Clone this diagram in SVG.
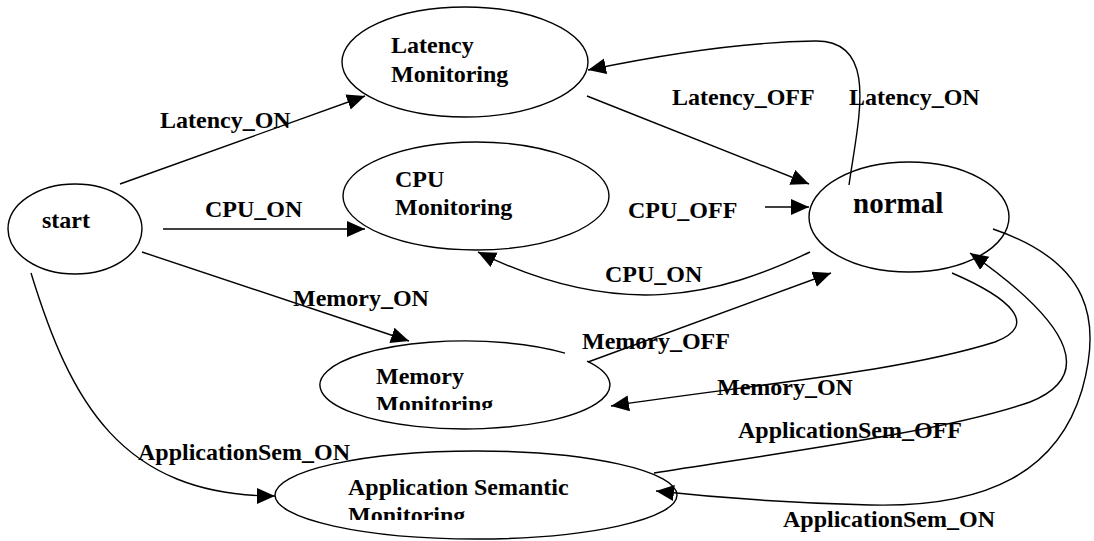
<svg xmlns="http://www.w3.org/2000/svg" width="1094" height="541" viewBox="0 0 1094 541">
<style>
.n{fill:none;stroke:#000;stroke-width:1.4}
.e{fill:none;stroke:#000;stroke-width:1.4;marker-end:url(#ah)}
text{font-family:'Liberation Serif','Times New Roman','DejaVu Serif',serif;font-weight:bold;font-size:24px;fill:#000}
.big{font-size:29px}
</style>
<defs>
<marker id="ah" markerUnits="userSpaceOnUse" markerWidth="20" markerHeight="18" refX="18" refY="8" orient="auto">
<path d="M0,0 L18,8 L0,16 Z" fill="#000"/>
</marker>
<clipPath id="cm"><rect x="300" y="330" width="320" height="80"/></clipPath>
<clipPath id="ca"><rect x="270" y="440" width="420" height="80"/></clipPath>
</defs>
<rect width="1094" height="541" fill="#fff"/>
<g id="connectors">
<path class="e" d="M120,184 L365,96"/>
<path class="e" d="M163,229 L365,229"/>
<path class="e" d="M142,252 L409,341"/>
<path class="e" d="M31,273 C70,400 120,496 275,496"/>
<path class="e" d="M587,96 L809,184"/>
<path class="e" d="M849,185 C858,120 880,40 815,41 C745,42 660,55 588,70"/>
<path class="e" d="M765,207 L809,207"/>
<path class="e" d="M810,252 C720,295 620,322 478,252"/>
<path class="e" d="M588,362 L831,273"/>
<path class="e" d="M952,273 C1010,298 1040,325 995,342 C900,372 750,385 611,406"/>
<path class="e" d="M654,473 C800,450 950,430 1030,402 C1090,378 1080,330 970,253"/>
<path class="e" d="M993,229 C1090,262 1102,320 1082,390 C1058,470 990,508 870,505 C790,503 720,498 656,491"/>
<text x="160" y="128">Latency_ON</text>
<text x="205" y="217">CPU_ON</text>
<text x="293" y="306">Memory_ON</text>
<text x="138" y="460">ApplicationSem_ON</text>
<text x="672" y="105">Latency_OFF</text>
<text x="849" y="105">Latency_ON</text>
<text x="628" y="218">CPU_OFF</text>
<text x="605" y="282">CPU_ON</text>
<text x="582" y="349">Memory_OFF</text>
<text x="717" y="395">Memory_ON</text>
<text x="738" y="438">ApplicationSem_OFF</text>
<text x="783" y="527">ApplicationSem_ON</text>
</g>
<g id="start">
<ellipse class="n" cx="75" cy="229" rx="67" ry="45"/>
<text x="42" y="228">start</text>
</g>
<g id="latency">
<ellipse class="n" cx="465" cy="62" rx="123" ry="55"/>
<text x="391" y="53">Latency</text>
<text x="391" y="82">Monitoring</text>
</g>
<g id="cpu">
<ellipse class="n" cx="476" cy="196" rx="133" ry="54"/>
<text x="395" y="187">CPU</text>
<text x="395" y="215">Monitoring</text>
</g>
<g id="normal">
<ellipse class="n" cx="909" cy="217" rx="100" ry="55"/>
<text class="big" x="853" y="213">normal</text>
</g>
<g id="memory">
<path class="n" d="M565,353.1 A145,44 0 1 0 587,361.2"/>
<g clip-path="url(#cm)">
<text x="376" y="384">Memory</text>
<text x="376" y="412">Monitoring</text>
</g>
</g>
<g id="appsem">
<ellipse class="n" cx="476" cy="495" rx="201" ry="44"/>
<g clip-path="url(#ca)">
<text x="348" y="495">Application Semantic</text>
<text x="348" y="523">Monitoring</text>
</g>
</g>
</svg>
